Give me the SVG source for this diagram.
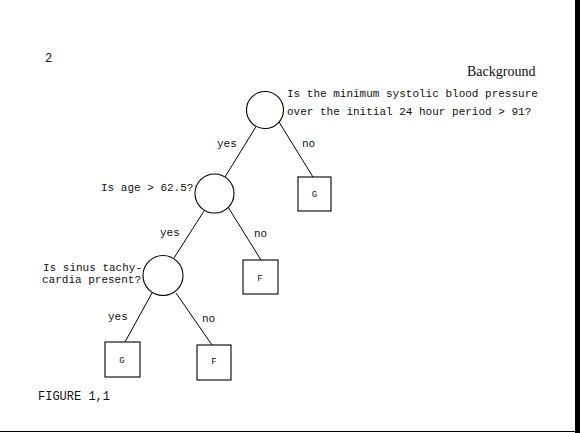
<svg xmlns="http://www.w3.org/2000/svg" width="580" height="433" viewBox="0 0 580 433">
<style>
text{font-family:"Liberation Mono","DejaVu Sans Mono",monospace;font-size:11px;fill:#111}
.n{fill:#fff;stroke:#000;stroke-width:1.1}
.c line{stroke:#000;stroke-width:1}
</style>
<rect width="580" height="433" fill="#fff"/>
<rect x="575" y="0" width="5" height="433" fill="#000"/>
<line x1="0" y1="431.5" x2="575" y2="431.5" stroke="#000" stroke-width="1"/>
<text x="45" y="62" style="font-size:12px">2</text>
<text x="467" y="76" style="font-family:'Liberation Serif',serif;font-size:14px">Background</text>
<text x="38" y="400" style="font-size:12px">FIGURE 1,1</text>
<g class="c" id="connectors">
<line x1="257" y1="125" x2="225" y2="177"/>
<line x1="279" y1="122" x2="313" y2="177"/>
<line x1="204" y1="211" x2="174" y2="258"/>
<line x1="228" y1="207" x2="261" y2="260"/>
<line x1="152" y1="293" x2="125" y2="342"/>
<line x1="176" y1="293" x2="212" y2="345"/>
<text x="217" y="147">yes</text>
<text x="302" y="147">no</text>
<text x="160" y="236">yes</text>
<text x="254" y="237">no</text>
<text x="108" y="320">yes</text>
<text x="202" y="322">no</text>
</g>
<g id="q1">
<circle class="n" cx="265" cy="110" r="18.5"/>
<text x="287" y="97">Is the minimum systolic blood pressure</text>
<text x="287" y="115">over the initial 24 hour period &gt; 91?</text>
</g>
<g id="q2">
<circle class="n" cx="214.5" cy="193.5" r="19.5"/>
<text x="101" y="191">Is age &gt; 62.5?</text>
</g>
<g id="q3">
<circle class="n" cx="163" cy="275.5" r="20"/>
<text x="43" y="271">Is sinus tachy-</text>
<text x="42" y="283">cardia present?</text>
</g>
<g id="leaf1">
<rect class="n" x="298" y="177" width="33" height="34"/>
<text x="314.5" y="197" text-anchor="middle" style="font-size:9px">G</text>
</g>
<g id="leaf2">
<rect class="n" x="243" y="260" width="35" height="34"/>
<text x="260" y="281" text-anchor="middle" style="font-size:9px">F</text>
</g>
<g id="leaf3">
<rect class="n" x="105" y="342" width="35" height="35"/>
<text x="122" y="363" text-anchor="middle" style="font-size:9px">G</text>
</g>
<g id="leaf4">
<rect class="n" x="197" y="345" width="34" height="35"/>
<text x="214" y="364" text-anchor="middle" style="font-size:9px">F</text>
</g>
</svg>
